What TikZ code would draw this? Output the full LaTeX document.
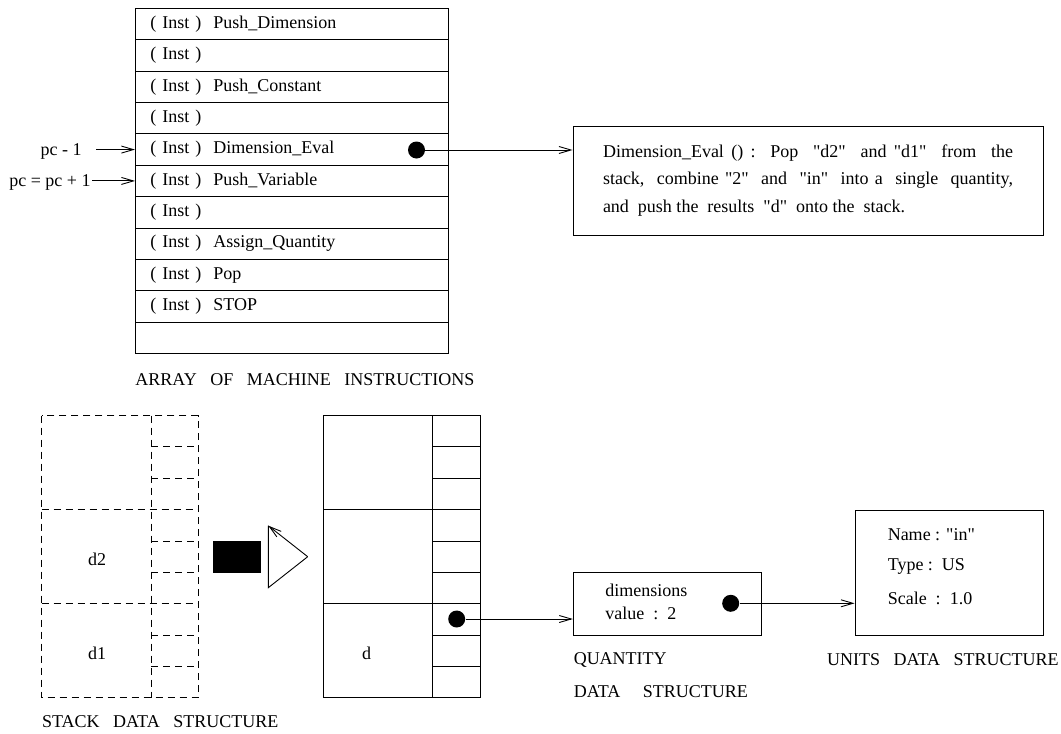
\documentclass[tikz,border=0pt]{standalone}
\usepackage{fontspec}
\setmainfont{Liberation Serif}[Ligatures=TeXOff]
\usetikzlibrary{arrows.meta}

\begin{document}
\begin{tikzpicture}[x=1pt,y=-1pt,line width=0.9pt,
    font=\fontsize{18}{21}\selectfont,
    >={Straight Barb[length=12pt,width=7pt,line width=0.9pt]},
    instrow/.style={draw,anchor=north west,minimum width=313pt,minimum height=31.36pt,
      text width=283pt,inner xsep=15pt,inner ysep=0pt,align=left},
    blackdot/.style={circle,fill,inner sep=0pt,minimum size=17pt},
    lbl/.style={anchor=west,inner sep=0pt},
    stackline/.style={dash pattern=on 7pt off 5pt}]
            \useasboundingbox (0,0) rectangle (1061,734);
            \foreach \txt [count=\i] in {Push\_Dimension,{},Push\_Constant,{},Dimension\_Eval,Push\_Variable,{},Assign\_Quantity,Pop,STOP}
                \node[instrow] (r\i) at (135,{8+(\i-1)*31.36}) {( Inst )\ \ \txt};
            \node[instrow] (r11) at (135,321.6) {};
            \node[lbl] (arraylbl) at (135,380) {ARRAY\ \ \ OF\ \ \ MACHINE\ \ \ INSTRUCTIONS};
            \node[anchor=east,inner sep=0pt] (pcprev) at (82,151) {pc - 1};
            \node[anchor=east,inner sep=0pt] (pcnext) at (91,182) {pc = pc + 1};
            \draw[->] (pcprev.east |- r5.west) ++(14,0) -- (r5.west);
            \draw[->] (pcnext.east |- r6.west) ++(1,0) -- (r6.west);
            \node[blackdot] (evaldot) at (416.5,150) {};
            \node[draw,text width=410pt,inner xsep=30pt,inner ysep=0pt,minimum height=109pt,
                align=justify,font=\fontsize{18}{27.5}\selectfont] (desc) at (808,180.5)
                {Dimension\_Eval ()\ :\ \ Pop\ \ "d2"\ \ and "d1"\ \ from\ \ the\linebreak
                 stack,\ \ combine "2"\ \ and\ \ "in"\ \ into a\ \ single\ \ quantity,\linebreak
                 and\ \ push the\ \ results\ \ "d"\ \ onto the\ \ stack.};
            \draw[->] (evaldot) -- (evaldot -| desc.west);
            \draw[stackline] (41.7,415.7) rectangle (198,697.7);
            \draw[stackline] (151,415.7) -- (151,697.7);
            \foreach \y in {509.3,603.3}
                \draw[stackline] (41.7,\y) -- (198,\y);
            \foreach \y in {446.7,478.3,541,572.3,635,666}
                \draw[stackline] (151,\y) -- (198,\y);
            \node (d2lbl) at (97,559) {d2};
            \node (d1lbl) at (97,653) {d1};
            \node[lbl] (stacklbl) at (41.7,722) {STACK\ \ \ DATA\ \ \ STRUCTURE};
            \fill (213,541) rectangle (261,572.7);
            \draw (268.3,525.7) -- (268.3,587.7) -- (307.7,556.7);
            \draw[->] (307.7,556.7) -- (268.3,525.7);
            \draw (323.3,415.7) rectangle (480,697.7);
            \draw (432.7,415.7) -- (432.7,697.7);
            \foreach \y in {509.3,603.3}
                \draw (323.3,\y) -- (480,\y);
            \foreach \y in {446.7,478.3,541,572.3,635,666}
                \draw (432.7,\y) -- (480,\y);
            \node (dlbl) at (366.7,653) {d};
            \node[blackdot] (ddot) at (456.7,619) {};
            \node[draw,minimum width=188.4pt,minimum height=62.7pt] (qty) at (667.5,603.7) {};
            \node[lbl] (qtydim) at (605,590.7) {dimensions};
            \node[lbl] (qtyval) at (605,613.3) {value\ \ :\ \ 2};
            \node[blackdot] (qdot) at (730.7,603.3) {};
            \draw[->] (ddot) -- (ddot -| qty.west);
            \node[draw,minimum width=188.3pt,minimum height=125pt] (units) at (949.2,572.5) {};
            \node[lbl] (uname) at (887.3,535) {Name : "in"};
            \node[lbl] (utype) at (887.3,566.7) {Type :\ \ US};
            \node[lbl] (uscale) at (887.3,598.3) {Scale\ \ :\ \ 1.0};
            \draw[->] (qdot) -- (qdot -| units.west);
            \node[lbl] (qtylbl) at (573.3,660) {QUANTITY};
            \node[lbl] (qtylbl2) at (573.3,691.7) {DATA\ \ \ \ \ STRUCTURE};
            \node[lbl] (unitslbl) at (826.7,660) {UNITS\ \ \ DATA\ \ \ STRUCTURE};
        \end{tikzpicture}
\end{document}
